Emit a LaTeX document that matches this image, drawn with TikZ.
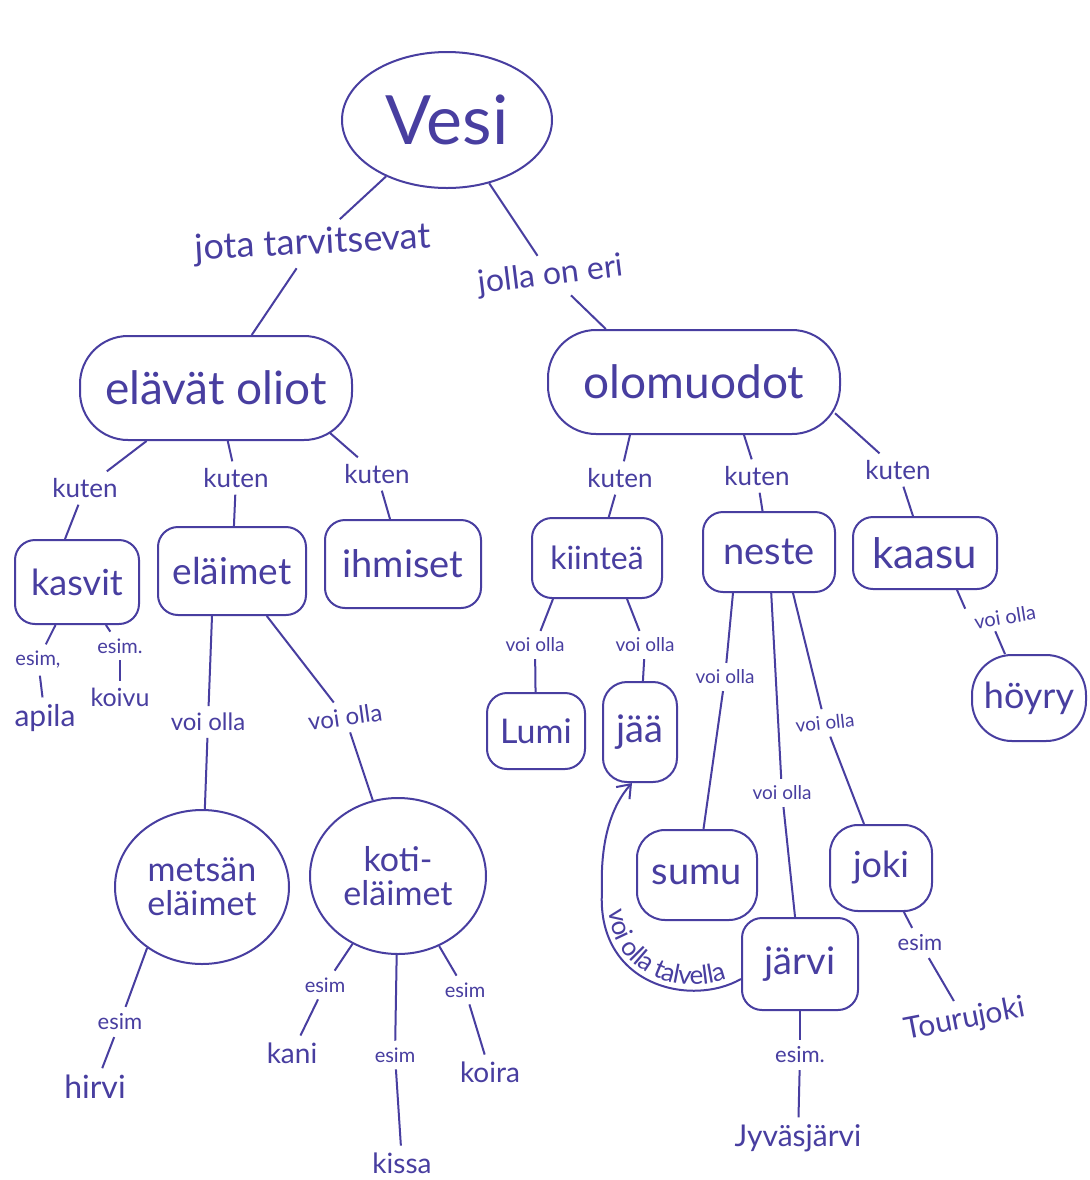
\documentclass[tikz,border=0pt]{standalone}
\usepackage{fontspec}
\setmainfont{Lato}
\usetikzlibrary{shapes.geometric,decorations.text,calc,arrows.meta}
\definecolor{ink}{RGB}{72,62,160}
\newcommand\fsz[1]{\fontsize{#1}{#1}\selectfont}
\begin{document}
\begin{tikzpicture}[x=0.5pt,y=-0.5pt,line width=1pt,color=ink,text=ink,
  rbox/.style n args={3}{draw,rectangle,rounded corners=#3,minimum width=#1,minimum height=#2,align=center},
  obox/.style n args={2}{draw,ellipse,minimum width=#1,minimum height=#2,align=center,inner sep=0pt},
  lbl/.style={inner sep=3pt},
  leaf/.style={inner sep=3pt}]
\fill[white] (0,0) rectangle (1090,1180);
\path[use as bounding box] (0,0) rectangle (1090,1180);

% main nodes
\node[obox={105pt}{68pt},font=\fsz{34}] (vesi) at (447,120) {Vesi};
\node[rbox={136pt}{52pt}{24pt},font=\fsz{23}] (elavat) at (216,388) {elävät oliot};
\node[rbox={146pt}{52pt}{24pt},font=\fsz{23}] (olo) at (694,382) {olomuodot};
\node[rbox={62pt}{42pt}{10pt},font=\fsz{18}] (kasvit) at (77,582) {kasvit};
\node[rbox={74pt}{44pt}{10pt},font=\fsz{18.5}] (elaimet) at (232,571) {eläimet};
\node[rbox={78pt}{44pt}{10pt},font=\fsz{19}] (ihmiset) at (403,564) {ihmiset};
\node[rbox={65pt}{40pt}{10pt},font=\fsz{16}] (kiint) at (597,558) {kiinteä};
\node[rbox={66pt}{40pt}{10pt},font=\fsz{19}] (neste) at (769,552) {neste};
\node[rbox={72pt}{36pt}{10pt},font=\fsz{21}] (kaasu) at (925,553) {kaasu};
\node[rbox={49pt}{38pt}{10pt},font=\fsz{17}] (lumi) at (536,731) {Lumi};
\node[rbox={37pt}{50pt}{12pt},font=\fsz{19}] (jaa) at (640,732) {jää};
\node[rbox={57pt}{43pt}{20pt},font=\fsz{18}] (hoyry) at (1029,698) {höyry};
\node[rbox={60pt}{45pt}{14pt},font=\fsz{19}] (sumu) at (697,875) {sumu};
\node[rbox={51pt}{43pt}{14pt},font=\fsz{18}] (joki) at (881,868) {joki};
\node[rbox={58pt}{46pt}{10pt},font=\fsz{19}] (jarvi) at (800,964) {järvi};
\node[obox={87pt}{77pt},font=\fsz{17}] (metsan) at (202,887) {metsän\\eläimet};
\node[obox={88pt}{78pt},font=\fsz{17}] (koti) at (398,876) {koti-\\eläimet};

% link labels
\node[lbl,font=\fsz{18},rotate=3] (lA) at (313,244) {jota tarvitsevat};
\node[lbl,font=\fsz{16},rotate=7] (lB) at (551,276) {jolla on eri};
\node[lbl,font=\fsz{13}] (kA) at (85,488) {kuten};
\node[lbl,font=\fsz{13}] (kB) at (236,478) {kuten};
\node[lbl,font=\fsz{13}] (kC) at (377,474) {kuten};
\node[lbl,font=\fsz{13}] (kD) at (620,478) {kuten};
\node[lbl,font=\fsz{13}] (kE) at (757,476) {kuten};
\node[lbl,font=\fsz{13}] (kF) at (898,470) {kuten};
\node[lbl,font=\fsz{10}] (eA) at (38,660) {esim,};
\node[lbl,font=\fsz{10}] (eB) at (120,646) {esim.};
\node[lbl,font=\fsz{12}] (vA) at (208,722) {voi olla};
\node[lbl,font=\fsz{12},rotate=8] (vB) at (345,717) {voi olla};
\node[lbl,font=\fsz{11}] (eC) at (120,1022) {esim};
\node[lbl,font=\fsz{10}] (eD) at (325,985) {esim};
\node[lbl,font=\fsz{10}] (eE) at (395,1055) {esim};
\node[lbl,font=\fsz{10}] (eF) at (465,990) {esim};
\node[lbl,font=\fsz{9.5}] (vC) at (535,645) {voi olla};
\node[lbl,font=\fsz{9.5}] (vD) at (645,645) {voi olla};
\node[lbl,font=\fsz{9.5}] (vE) at (725,677) {voi olla};
\node[lbl,font=\fsz{9.5}] (vF) at (782,793) {voi olla};
\node[lbl,font=\fsz{9.5},rotate=6] (vG) at (825,723) {voi olla};
\node[lbl,font=\fsz{10},rotate=9] (vH) at (1005,617) {voi olla};
\node[lbl,font=\fsz{11}] (eG) at (920,943) {esim};
\node[lbl,font=\fsz{11}] (eH) at (800,1055) {esim.};

% leaves
\node[leaf,font=\fsz{15}] (apila) at (45,718) {apila};
\node[leaf,font=\fsz{12.5}] (koivu) at (120,697) {koivu};
\node[leaf,font=\fsz{16}] (hirvi) at (95,1087) {hirvi};
\node[leaf,font=\fsz{14}] (kani) at (292,1053) {kani};
\node[leaf,font=\fsz{14}] (kissa) at (402,1163) {kissa};
\node[leaf,font=\fsz{14}] (koira) at (490,1072) {koira};
\node[leaf,font=\fsz{15},rotate=11] (touru) at (965,1020) {Tourujoki};
\node[leaf,font=\fsz{15}] (jyvas) at (798,1138) {Jyväsjärvi};

% connectors
\draw (vesi) -- (lA);  \draw (lA) -- (elavat);
\draw (vesi) -- (lB);  \draw (lB) -- (olo.149);
\draw (elavat) -- (kA); \draw (kA) -- ([xshift=-6pt]kasvit.north);
\draw (elavat) -- (kB); \draw (kB) -- (elaimet);
\draw ([xshift=57pt,yshift=4pt]elavat.south) -- (kC); \draw (kC) -- (ihmiset);
\draw ([xshift=-32pt]olo.south) -- (kD); \draw (kD) -- (kiint);
\draw ([xshift=25pt]olo.south) -- (kE); \draw (kE) -- (neste);
\draw ([xshift=-3pt]olo.-12) -- (kF); \draw (kF) -- (kaasu);
\draw (kasvit) -- (eA); \draw (eA) -- (apila);
\draw (kasvit) -- (eB); \draw (eB) -- (koivu);
\draw ([xshift=-10pt]elaimet.south) -- (vA); \draw (vA) -- (metsan);
\draw (elaimet) -- (vB); \draw (vB) -- (koti);
\draw (metsan.228) -- (eC); \draw (eC) -- (hirvi);
\draw (koti) -- (eD); \draw (eD) -- (kani);
\draw (koti) -- (eE); \draw (eE) -- (kissa);
\draw (koti) -- (eF); \draw (eF) -- (koira);
\draw ([xshift=-22pt]kiint.south) -- (vC); \draw (vC) -- (lumi);
\draw ([xshift=15pt]kiint.south) -- (vD); \draw (vD) -- (jaa);
\draw ([xshift=-18pt]neste.south) -- (vE); \draw (vE) -- (sumu);
\draw (neste) -- (vF); \draw (vF) -- (jarvi);
\draw ([xshift=12pt]neste.south) -- (vG); \draw (vG) -- (joki);
\draw ([xshift=16pt]kaasu.south) -- (vH.north west); \draw ([xshift=-6pt]vH.south) -- ([xshift=-12pt]hoyry.north);
\draw (joki) -- (eG); \draw (eG) -- (touru);
\draw (jarvi) -- (eH); \draw (eH) -- (jyvas);

% curved arrow jarvi -> jaa
\draw[-{Straight Barb[length=6pt,width=9pt]}] ($(jarvi.west)+(0,15)$) .. controls (690,1008) and (596,985) .. (602,891) .. controls (600,840) and (612,805) .. ([xshift=-4pt]jaa.south);
\path[decorate,decoration={text along path,text={|\fsz{13}\color{ink}|voi olla talvella},text align={right,right indent=7pt},raise=3pt}]
  ([xshift=-4pt]jaa.south) .. controls (612,805) and (600,840) .. (602,891) .. controls (596,985) and (690,1008) .. ($(jarvi.west)+(0,15)$);
\end{tikzpicture}
\end{document}
